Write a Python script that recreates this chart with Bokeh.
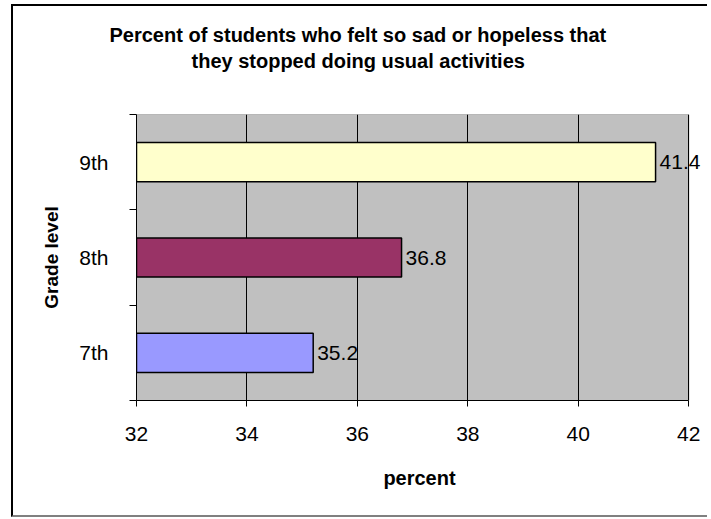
from bokeh.plotting import figure
from bokeh.models import Range1d, FixedTicker, ColumnDataSource, LabelSet, Title
from bokeh.core.properties import value
from bokeh.embed import file_html
from bokeh.resources import INLINE

grades = ["7th", "8th", "9th"]
values = [35.2, 36.8, 41.4]
colors = ["#9999FF", "#993366", "#FFFFCC"]
x_ticks = [32, 34, 36, 38, 40, 42]
title_lines = ["Percent of students who felt so sad or hopeless that",
               "they stopped doing usual activities"]

ypos = [i + 0.5 for i in range(len(grades))]
src = ColumnDataSource(dict(y=ypos, v=values, c=colors, lbl=[f"{v:.1f}" for v in values]))

FONT = "Liberation Sans"
XMIN, XMAX = x_ticks[0], x_ticks[-1]

p = figure(output_backend="svg", toolbar_location=None,
           frame_width=566, frame_height=286,
           min_border_left=123, min_border_right=5, min_border_top=108, min_border_bottom=115,
           x_range=Range1d(XMIN, XMAX + 0.25), y_range=Range1d(0, len(grades)))

p.background_fill_color = "white"
p.border_fill_color = "white"
p.outline_line_color = None

# grey plot area limited to the axis range
p.quad(left=[XMIN], right=[XMAX], bottom=[0], top=[len(grades)],
       fill_color="#C0C0C0", line_color="#808080", line_width=1, level="image")

# title: two lines; an empty spacer panel sits next to the frame
spacer = Title(text=" ", standoff=18, text_font=FONT, text_font_size="20px")
p.add_layout(spacer, "above")
p.title.text = title_lines[0]
t2 = Title(text=title_lines[1])
for t, off in ((p.title, -27), (t2, 55)):
    t.align = "left"
    t.offset = off
    t.standoff = 2
    t.text_font = FONT
    t.text_font_size = "20px"
    t.text_font_style = "bold"
    t.text_color = "black"
p.add_layout(t2, "above")

p.hbar(y="y", left=XMIN, right="v", height=0.41, fill_color="c",
       line_color="black", line_width=1.5, source=src)

labels = LabelSet(x="v", y="y", text="lbl", source=src, x_offset=4,
                  text_baseline="middle", text_align="left",
                  text_font=value(FONT), text_font_size="21px", text_color="black")
p.add_layout(labels)

# x axis
p.xaxis.ticker = FixedTicker(ticks=x_ticks)
p.xaxis.bounds = (XMIN, XMAX)
p.xaxis.axis_label = "percent"
p.xaxis.axis_label_text_font = FONT
p.xaxis.axis_label_text_font_style = "bold"
p.xaxis.axis_label_text_font_size = "20px"
p.xaxis.axis_label_text_color = "black"
p.xaxis.axis_label_standoff = 23
p.xaxis.major_label_text_font = FONT
p.xaxis.major_label_text_font_size = "21px"
p.xaxis.major_label_text_color = "black"
p.xaxis.major_label_standoff = 20
p.xaxis.major_tick_out = 6
p.xaxis.major_tick_in = 0
p.xaxis.minor_tick_line_color = None
p.xaxis.axis_line_color = "black"
p.xaxis.major_tick_line_color = "black"

# y axis
p.yaxis.ticker = FixedTicker(ticks=ypos, minor_ticks=list(range(len(grades) + 1)))
p.yaxis.major_label_overrides = {y: g for y, g in zip(ypos, grades)}
p.yaxis.major_tick_line_color = None
p.yaxis.major_tick_out = 0
p.yaxis.major_tick_in = 0
p.yaxis.minor_tick_out = 7
p.yaxis.minor_tick_in = 0
p.yaxis.minor_tick_line_color = "black"
p.yaxis.major_label_standoff = 21
p.yaxis.major_label_text_font = FONT
p.yaxis.major_label_text_font_size = "21px"
p.yaxis.major_label_text_color = "black"
p.yaxis.axis_label = "Grade level"
p.yaxis.axis_label_text_font = FONT
p.yaxis.axis_label_text_font_style = "bold"
p.yaxis.axis_label_text_font_size = "19px"
p.yaxis.axis_label_text_color = "black"
p.yaxis.axis_label_standoff = 14
p.yaxis.axis_line_color = "black"

p.xgrid.grid_line_color = "black"
p.xgrid.grid_line_width = 1
p.xgrid.bounds = (XMIN, XMAX)
p.ygrid.grid_line_color = None

p.styles = {"border-left": "2px solid black", "border-top": "2px solid black",
            "border-bottom": "2px solid #808080", "margin-left": "11px",
            "margin-top": "4px"}

open("out.html", "w").write(file_html(p, INLINE))
